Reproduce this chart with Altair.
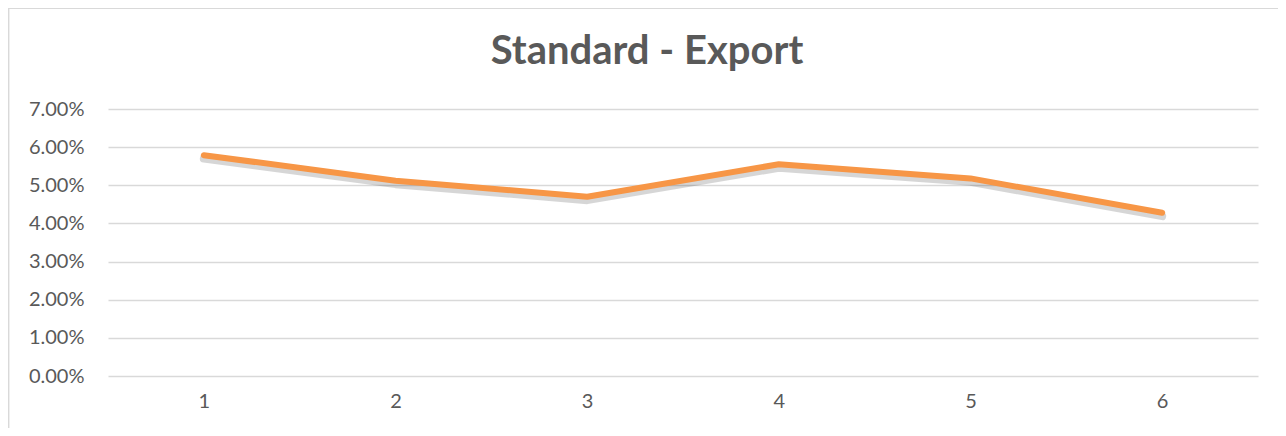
import altair as alt
import pandas as pd

categories = ["1", "2", "3", "4", "5", "6"]
values = [0.0579, 0.0512, 0.0470, 0.0555, 0.0518, 0.0428]
y_ticks = [0, 0.01, 0.02, 0.03, 0.04, 0.05, 0.06, 0.07]
title_text = "Standard - Export"

df = pd.DataFrame({"cat": categories, "val": values})

FONT = "Lato"
GRAY = "#595959"

x_enc = alt.X(
    "cat:O",
    sort=categories,
    scale=alt.Scale(type="point", padding=0.5),
    axis=alt.Axis(
        title=None, labelAngle=0, domain=False, ticks=False, grid=False,
        labelFont=FONT, labelFontSize=20, labelColor=GRAY, labelPadding=15,
    ),
)
y_enc = alt.Y(
    "val:Q",
    scale=alt.Scale(domain=[0, 0.07], nice=False, zero=True),
    axis=alt.Axis(
        title=None, values=y_ticks, format=".2%", domain=False, ticks=False,
        grid=True, gridColor="#d9d9d9", gridWidth=1.3,
        labelFont=FONT, labelFontSize=20, labelColor=GRAY, labelPadding=24,
    ),
)

shadow = alt.Chart(df).transform_calculate(
    val="datum.val - 0.0009"
).mark_line(color="#000000", opacity=0.16, strokeWidth=8, strokeCap="round", strokeJoin="round").encode(
    x=x_enc, y=y_enc
)

line = alt.Chart(df).mark_line(
    color="#F79646", strokeWidth=6, strokeCap="round", strokeJoin="round"
).encode(x=x_enc, y=y_enc)

border = alt.Chart(df).mark_rect(
    fill=None, stroke="#d9d9d9", strokeWidth=1.2
).encode(
    x=alt.value(-99.5), x2=alt.value(1200), y=alt.value(-100.5), y2=alt.value(400)
)

chart = alt.layer(border, shadow, line).properties(
    width=1150,
    height=267,
    padding={"left": 100, "top": 101, "right": 20, "bottom": 52},
    autosize=alt.AutoSizeParams(type="none"),
    background="white",
    title=alt.TitleParams(
        title_text, font=FONT, fontSize=40, fontWeight="bold", color=GRAY,
        anchor="middle", frame="group", offset=-96, dx=-36, baseline="alphabetic",
    ),
).configure_view(stroke=None)

chart.save("out.html", embed_options={"renderer": "svg", "actions": False})
